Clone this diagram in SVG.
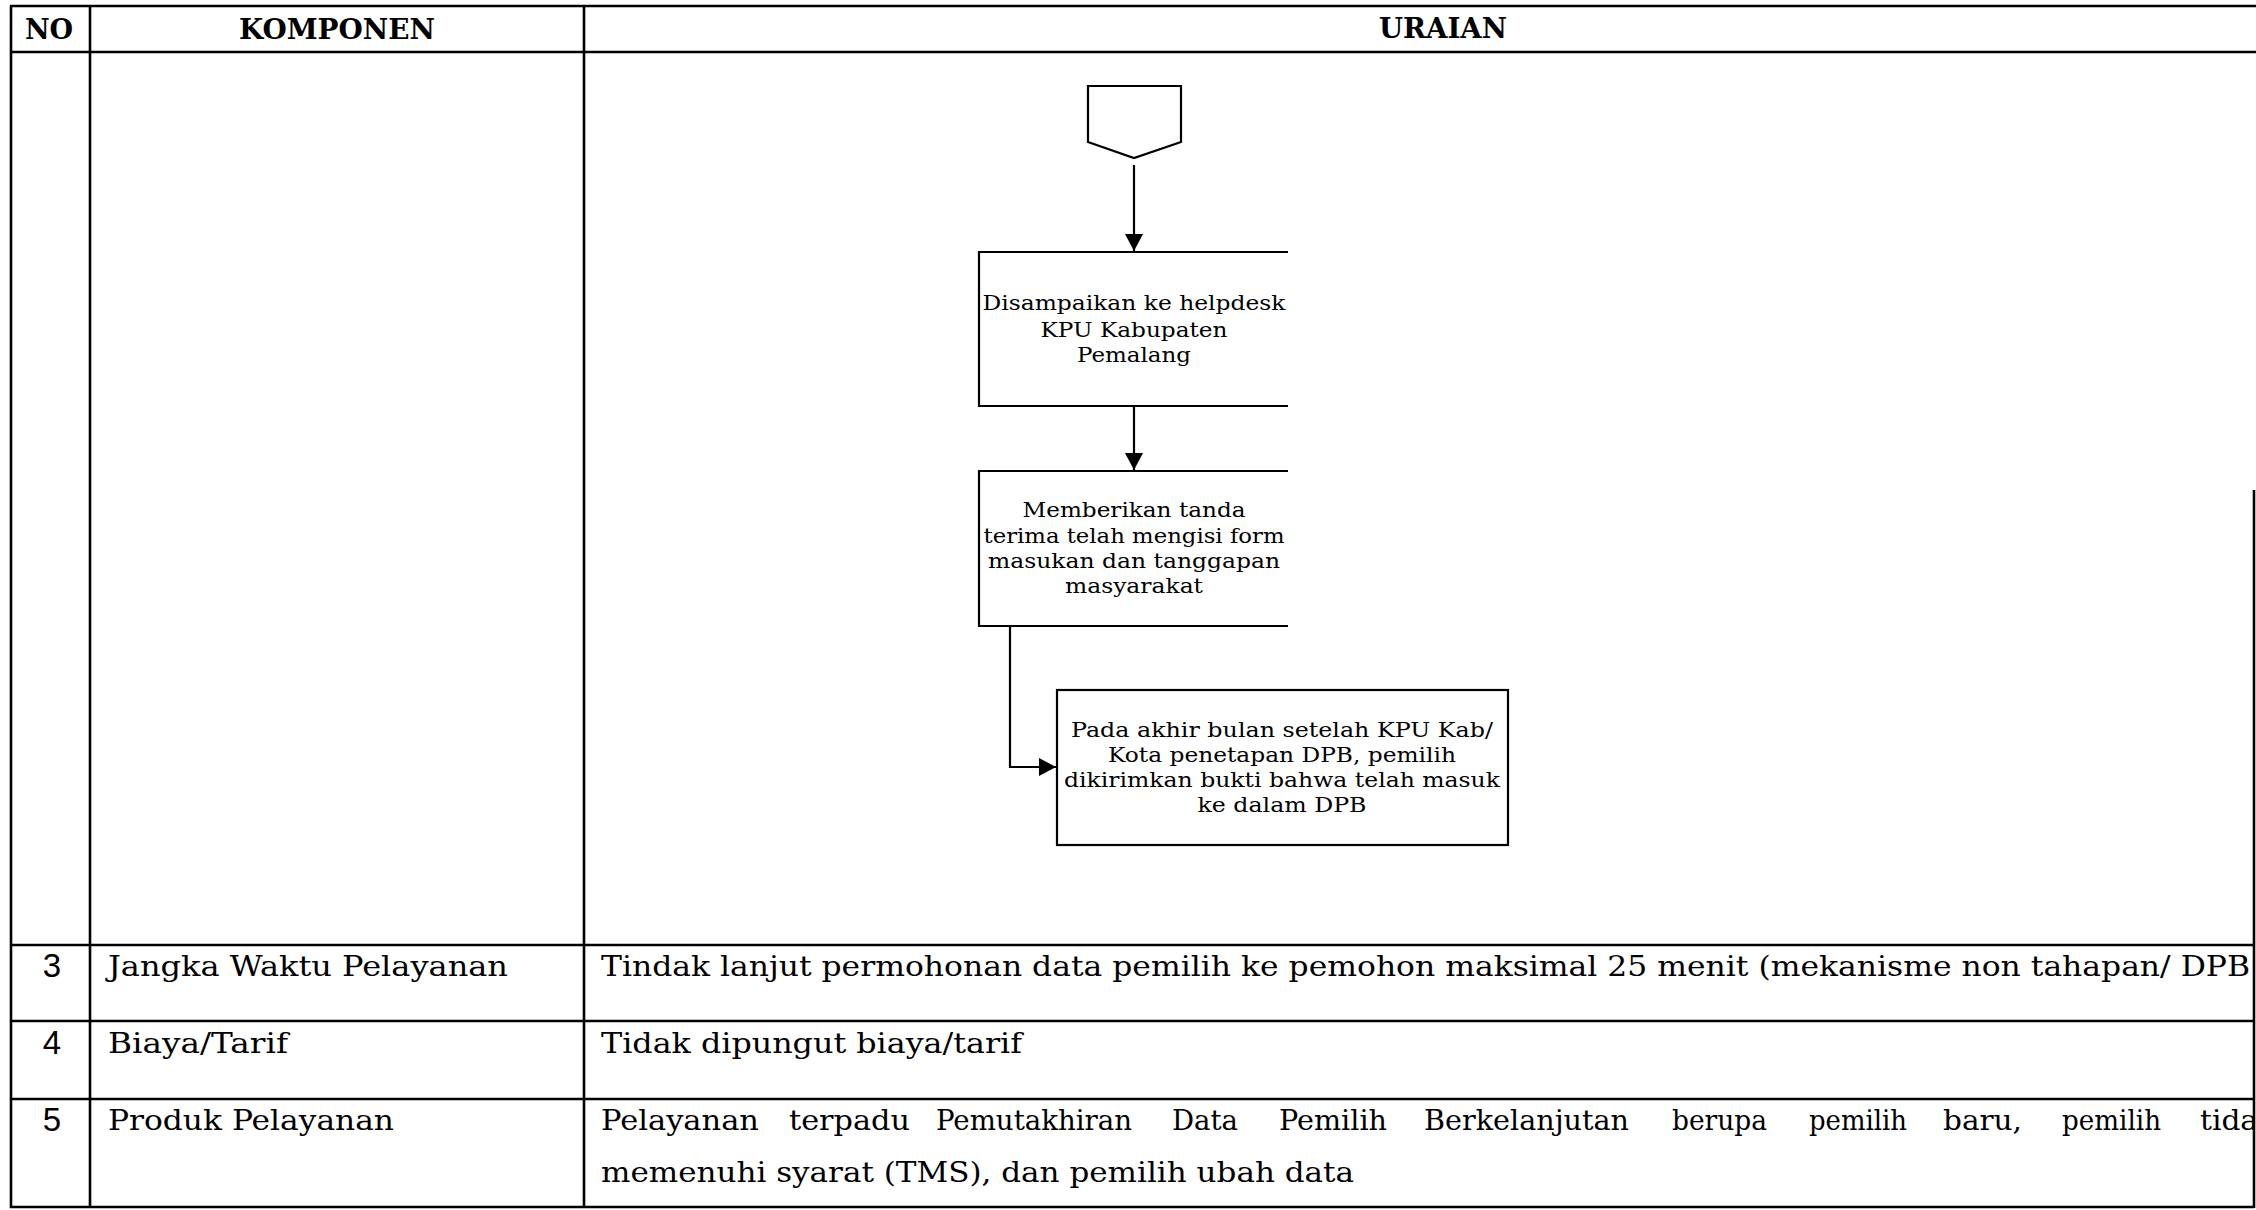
<svg xmlns="http://www.w3.org/2000/svg" width="2256" height="1210" viewBox="0 0 2256 1210">
<style>
.tl{stroke:#000;stroke-width:2.6;fill:none}
.hd{font-family:"DejaVu Serif","Liberation Serif",serif;font-weight:bold;font-size:27px;fill:#000}
.bd{font-family:"DejaVu Serif","Liberation Serif",serif;font-size:28px;fill:#000}
.num{font-family:"Liberation Sans",Arial,sans-serif;font-size:33px;fill:#000;text-anchor:middle}
.nd{stroke:#000;stroke-width:2.2;fill:#fff}
.nt{font-family:"DejaVu Serif","Liberation Serif",serif;font-size:21px;fill:#000;text-anchor:middle}
.cn{stroke:#000;stroke-width:2.2;fill:none}
</style>
<defs>
<marker id="ah" markerUnits="userSpaceOnUse" markerWidth="18" markerHeight="18" refX="17" refY="9" orient="auto">
<path d="M0,0 L17,9 L0,18 Z" fill="#000"/>
</marker>
<clipPath id="cr"><rect x="0" y="0" width="2253" height="1210"/></clipPath>
</defs>
<rect width="2256" height="1210" fill="#fff"/>
<g id="table">
<line class="tl" x1="10" y1="6" x2="2256" y2="6" stroke-width="3"/>
<line class="tl" x1="10" y1="52" x2="2256" y2="52" stroke-width="3"/>
<line class="tl" x1="10" y1="945" x2="2254" y2="945"/>
<line class="tl" x1="10" y1="1021" x2="2254" y2="1021"/>
<line class="tl" x1="10" y1="1099" x2="2254" y2="1099"/>
<line class="tl" x1="10" y1="1207" x2="2254" y2="1207"/>
<line class="tl" x1="11" y1="6" x2="11" y2="1208"/>
<line class="tl" x1="90" y1="6" x2="90" y2="1208"/>
<line class="tl" x1="584" y1="6" x2="584" y2="1208"/>
<line class="tl" x1="2254" y1="490" x2="2254" y2="1208" stroke-width="3"/>
</g>
<g id="header">
<text class="hd" x="49" y="39" text-anchor="middle">NO</text>
<text class="hd" x="239" y="39" textLength="196" lengthAdjust="spacingAndGlyphs">KOMPONEN</text>
<text class="hd" x="1379" y="38" textLength="128" lengthAdjust="spacingAndGlyphs">URAIAN</text>
</g>
<g id="row3">
<text class="num" x="52" y="977">3</text>
<text class="bd" x="108" y="976" textLength="400" lengthAdjust="spacingAndGlyphs">Jangka Waktu Pelayanan</text>
<text class="bd" x="601" y="976" textLength="1649" lengthAdjust="spacingAndGlyphs">Tindak lanjut permohonan data pemilih ke pemohon maksimal 25 menit (mekanisme non tahapan/ DPB</text>
</g>
<g id="row4">
<text class="num" x="52" y="1054">4</text>
<text class="bd" x="108" y="1053" textLength="180" lengthAdjust="spacingAndGlyphs">Biaya/Tarif</text>
<text class="bd" x="601" y="1053" textLength="421" lengthAdjust="spacingAndGlyphs">Tidak dipungut biaya/tarif</text>
</g>
<g id="row5">
<text class="num" x="52" y="1131">5</text>
<text class="bd" x="108" y="1130" textLength="286" lengthAdjust="spacingAndGlyphs">Produk Pelayanan</text>
<g clip-path="url(#cr)">
<text class="bd" x="601" y="1130" textLength="158" lengthAdjust="spacingAndGlyphs">Pelayanan</text>
<text class="bd" x="789" y="1130" textLength="121" lengthAdjust="spacingAndGlyphs">terpadu</text>
<text class="bd" x="936" y="1130" textLength="196" lengthAdjust="spacingAndGlyphs">Pemutakhiran</text>
<text class="bd" x="1172" y="1130" textLength="66" lengthAdjust="spacingAndGlyphs">Data</text>
<text class="bd" x="1279" y="1130" textLength="108" lengthAdjust="spacingAndGlyphs">Pemilih</text>
<text class="bd" x="1424" y="1130" textLength="205" lengthAdjust="spacingAndGlyphs">Berkelanjutan</text>
<text class="bd" x="1672" y="1130" textLength="95" lengthAdjust="spacingAndGlyphs">berupa</text>
<text class="bd" x="1809" y="1130" textLength="98" lengthAdjust="spacingAndGlyphs">pemilih</text>
<text class="bd" x="1943" y="1130" textLength="79" lengthAdjust="spacingAndGlyphs">baru,</text>
<text class="bd" x="2062" y="1130" textLength="99" lengthAdjust="spacingAndGlyphs">pemilih</text>
<text class="bd" x="2200" y="1130" textLength="58" lengthAdjust="spacingAndGlyphs">tida</text>
</g>
<text class="bd" x="601" y="1182" textLength="753" lengthAdjust="spacingAndGlyphs">memenuhi syarat (TMS), dan pemilih ubah data</text>
</g>
<g id="connectors">
<line class="cn" x1="1134" y1="165" x2="1134" y2="251" marker-end="url(#ah)"/>
<line class="cn" x1="1134" y1="406" x2="1134" y2="470" marker-end="url(#ah)"/>
<path class="cn" d="M1010,626 V767 H1056" marker-end="url(#ah)"/>
</g>
<g id="offpage">
<polygon class="nd" points="1088,86 1181,86 1181,142 1134,158 1088,142"/>
</g>
<g id="box1">
<path class="cn" d="M1288,252 H979 V406 H1288"/>
<text class="nt" x="1134" y="310" textLength="303" lengthAdjust="spacingAndGlyphs">Disampaikan ke helpdesk</text>
<text class="nt" x="1134" y="337" textLength="187" lengthAdjust="spacingAndGlyphs">KPU Kabupaten</text>
<text class="nt" x="1134" y="362" textLength="114" lengthAdjust="spacingAndGlyphs">Pemalang</text>
</g>
<g id="box2">
<path class="cn" d="M1288,471 H979 V626 H1288"/>
<text class="nt" x="1134" y="517" textLength="223" lengthAdjust="spacingAndGlyphs">Memberikan tanda</text>
<text class="nt" x="1134" y="543" textLength="301" lengthAdjust="spacingAndGlyphs">terima telah mengisi form</text>
<text class="nt" x="1134" y="568" textLength="292" lengthAdjust="spacingAndGlyphs">masukan dan tanggapan</text>
<text class="nt" x="1134" y="593" textLength="138" lengthAdjust="spacingAndGlyphs">masyarakat</text>
</g>
<g id="box3">
<rect class="nd" x="1057" y="690" width="451" height="155"/>
<text class="nt" x="1282" y="737" textLength="422" lengthAdjust="spacingAndGlyphs">Pada akhir bulan setelah KPU Kab/</text>
<text class="nt" x="1282" y="762" textLength="348" lengthAdjust="spacingAndGlyphs">Kota penetapan DPB, pemilih</text>
<text class="nt" x="1282" y="787" textLength="436" lengthAdjust="spacingAndGlyphs">dikirimkan bukti bahwa telah masuk</text>
<text class="nt" x="1282" y="812" textLength="169" lengthAdjust="spacingAndGlyphs">ke dalam DPB</text>
</g>
</svg>
